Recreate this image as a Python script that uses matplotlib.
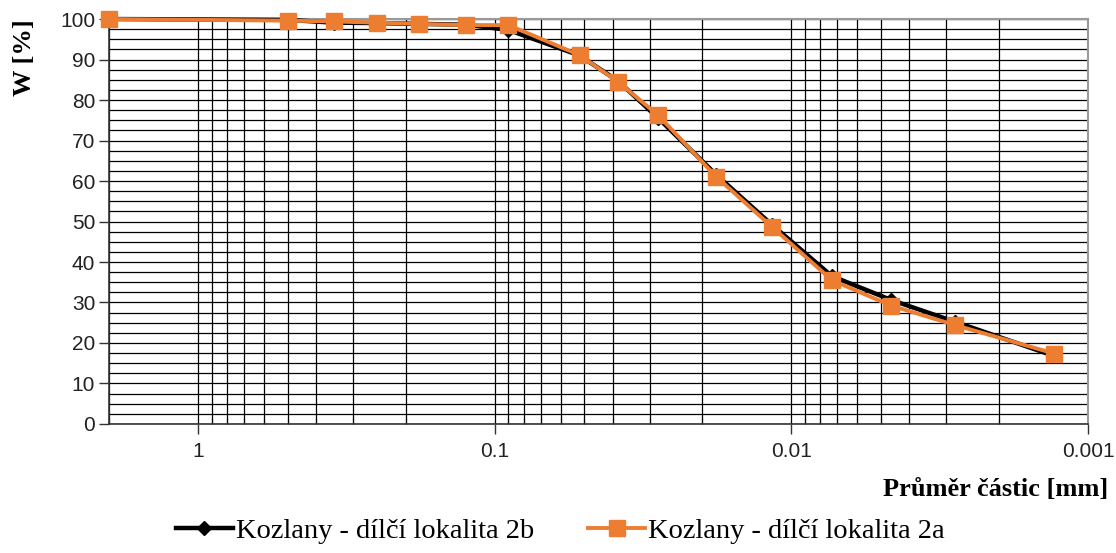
import matplotlib.pyplot as plt
from matplotlib.ticker import MultipleLocator, LogLocator, FixedLocator, NullFormatter

# grain size [mm] and passing [%]
size = [2.0, 0.5, 0.35, 0.25, 0.18, 0.125, 0.09, 0.0518, 0.0383, 0.0282, 0.0179,
        0.0116, 0.0073, 0.0046, 0.0028, 0.0013]
w_2b = [100, 99.8, 99.1, 99.0, 98.8, 98.6, 97.3, 91.0, 84.6, 75.6, 61.5,
        49.1, 36.5, 30.6, 25.2, 16.8]
w_2a = [100, 99.6, 99.4, 99.1, 98.8, 98.5, 98.5, 91.1, 84.4, 76.3, 61.0,
        48.6, 35.5, 29.2, 24.4, 17.4]

label_2b = "Kozlany - dílčí lokalita 2b"
label_2a = "Kozlany - dílčí lokalita 2a"
orange = "#ED7D31"

fig = plt.figure(figsize=(11.16, 5.53), dpi=100)
ax = fig.add_axes([0.0977, 0.2333, 0.8772, 0.7323])

ax.plot(size, w_2b, color="black", lw=3.2, marker="D", ms=7, label=label_2b,
        zorder=3, clip_on=False)
ax.plot(size, w_2a, color=orange, lw=2.8, marker="s", ms=12, label=label_2a,
        zorder=4, clip_on=False)

ax.set_xscale("log")
ax.set_xlim(2.0, 0.001)
ax.set_ylim(0, 100)

ax.yaxis.set_major_locator(MultipleLocator(10))
ax.yaxis.set_minor_locator(MultipleLocator(2.5))
ax.xaxis.set_major_locator(FixedLocator([1, 0.1, 0.01, 0.001]))
ax.xaxis.set_minor_locator(LogLocator(base=10, subs=range(2, 10)))
ax.xaxis.set_minor_formatter(NullFormatter())
ax.set_xticklabels(["1", "0.1", "0.01", "0.001"])

ax.grid(True, which="both", color="black", lw=0.9)
ax.set_axisbelow(True)

ax.tick_params(axis="both", which="major", direction="out", length=7, width=1,
               labelsize=15, color="#333333")
ax.tick_params(axis="y", which="minor", length=0)
ax.tick_params(axis="x", which="minor", direction="in", length=5, width=0.8)
ax.tick_params(axis="x", which="major", pad=6)
ax.tick_params(axis="y", which="major", pad=3)
for lab in ax.get_xticklabels() + ax.get_yticklabels():
    lab.set_fontfamily("Liberation Sans")
    lab.set_color("#222222")

for side in ["left", "bottom"]:
    ax.spines[side].set_color("#333333")
    ax.spines[side].set_linewidth(1.2)
for side in ["top", "right"]:
    ax.spines[side].set_color("#999999")
    ax.spines[side].set_linewidth(1.5)

fig.text(0.022, 0.965, "W [%]", rotation=90, va="top", ha="center",
         fontsize=19, fontweight="bold", family="Liberation Serif")
fig.text(0.993, 0.114, "Průměr částic [mm]", ha="right", va="center",
         fontsize=19, fontweight="bold", family="Liberation Serif")

fig.legend(loc="center", bbox_to_anchor=(0.502, 0.04), ncol=2, frameon=False,
           prop={"family": "Liberation Serif", "size": 20.5}, handlelength=2.0,
           handletextpad=0.1, columnspacing=1.9)

fig.savefig("out.png", dpi=100)
